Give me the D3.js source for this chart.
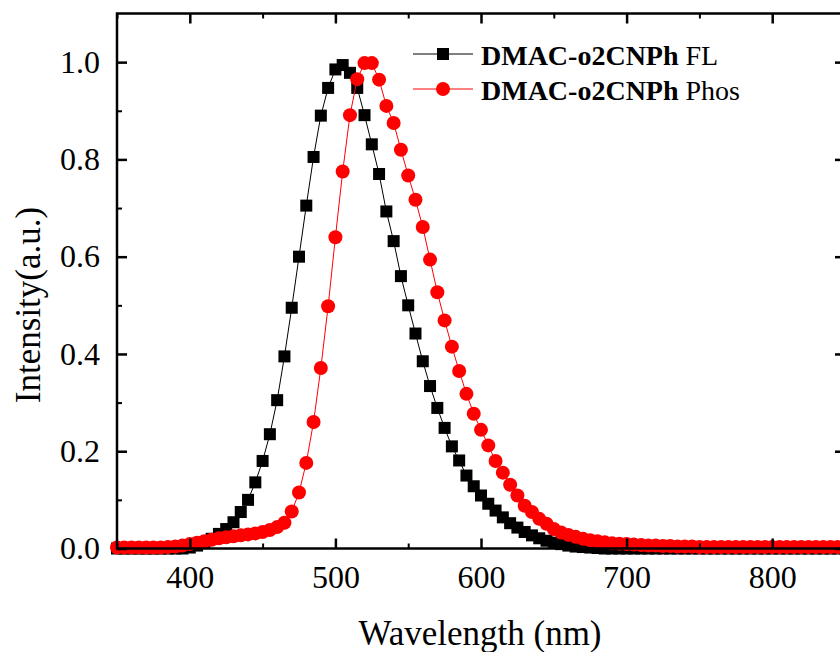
<!DOCTYPE html>
<html>
<head>
<meta charset="utf-8">
<script src="https://cdn.jsdelivr.net/npm/d3@7"></script>
<style>
  body { margin: 0; background: #fff; }
  svg { display: block; font-family: "Liberation Serif", "Times New Roman", serif; }
</style>
</head>
<body>
<div id="chart"></div>
<script>
const wavelength = [
  350, 355, 360, 365, 370, 375, 380, 385, 390, 395,
  400, 405, 410, 415, 420, 425, 430, 435, 440, 445,
  450, 455, 460, 465, 470, 475, 480, 485, 490, 495,
  500, 505, 510, 515, 520, 525, 530, 535, 540, 545,
  550, 555, 560, 565, 570, 575, 580, 585, 590, 595,
  600, 605, 610, 615, 620, 625, 630, 635, 640, 645,
  650, 655, 660, 665, 670, 675, 680, 685, 690, 695,
  700, 705, 710, 715, 720, 725, 730, 735, 740, 745,
  750, 755, 760, 765, 770, 775, 780, 785, 790, 795,
  800, 805, 810, 815, 820, 825, 830, 835, 840, 845,
  850
]

const fl = [
  0, 0, 0, 0, 0, 0, 0, 0, 0, 0,
  0.002, 0.006, 0.012, 0.02, 0.03, 0.04, 0.054, 0.075, 0.10, 0.136,
  0.18, 0.235, 0.305, 0.395, 0.495, 0.60, 0.705, 0.805, 0.89, 0.947,
  0.985, 0.994, 0.978, 0.947, 0.891, 0.831, 0.77, 0.693, 0.632, 0.56,
  0.50, 0.442, 0.385, 0.334, 0.289, 0.248, 0.21, 0.181, 0.15, 0.128,
  0.109, 0.092, 0.078, 0.064, 0.052, 0.043, 0.034, 0.027, 0.021, 0.016,
  0.012, 0.009, 0.006, 0.004, 0.003, 0.002, 0.001, 0, 0, 0,
  0, 0, 0, 0, 0, 0, 0, 0, 0, 0,
  0, 0, 0, 0, 0, 0, 0, 0, 0, 0,
  0, 0, 0, 0, 0, 0, 0, 0, 0, 0,
  0
]

const phos = [
  0.002, 0.002, 0.002, 0.002, 0.002, 0.002, 0.002, 0.003, 0.004, 0.006,
  0.009, 0.012, 0.015, 0.018, 0.021, 0.023, 0.025, 0.027, 0.029, 0.031,
  0.034, 0.038, 0.044, 0.053, 0.076, 0.115, 0.176, 0.26, 0.371, 0.498,
  0.64, 0.775, 0.891, 0.965, 0.998, 0.998, 0.964, 0.91, 0.875, 0.82,
  0.767, 0.717, 0.661, 0.594, 0.527, 0.469, 0.415, 0.365, 0.318, 0.277,
  0.244, 0.212, 0.18, 0.156, 0.131, 0.109, 0.088, 0.075, 0.061, 0.051,
  0.04, 0.033, 0.028, 0.024, 0.02, 0.017, 0.015, 0.013, 0.011, 0.01,
  0.009, 0.008, 0.007, 0.006, 0.006, 0.005, 0.005, 0.004, 0.004, 0.004,
  0.003, 0.003, 0.003, 0.003, 0.003, 0.003, 0.003, 0.003, 0.003, 0.003,
  0.003, 0.003, 0.003, 0.003, 0.003, 0.003, 0.003, 0.003, 0.003, 0.003,
  0.003
]

const xTicks = [400, 500, 600, 700, 800]
const xMinor = [350, 450, 550, 650, 750, 850]
const yTicks = [0, 0.2, 0.4, 0.6, 0.8, 1.0]
const yMinor = [0.1, 0.3, 0.5, 0.7, 0.9]
const legendNames = ['DMAC-o2CNPh', 'DMAC-o2CNPh']
const legendSuffix = [' FL', ' Phos']

const width = 840
const height = 652
const plotLeft = 117, plotRight = 845, plotTop = 13.5, plotBottom = 548.5

const x = d3.scaleLinear().domain([350, 850]).range([plotLeft, plotRight])
const y = d3.scaleLinear().domain([0, 1.1]).range([plotBottom, plotTop])

const svg = d3.select('#chart')
  .append('svg')
  .attr('width', width)
  .attr('height', height)

const flData = wavelength.map((w, i) => ({ w, v: fl[i] }))
const phosData = wavelength.map((w, i) => ({ w, v: phos[i] }))

const line = d3.line()
  .x(d => x(d.w))
  .y(d => y(d.v))

// black FL first, red Phos on top
svg.append('path')
  .datum(flData)
  .attr('fill', 'none')
  .attr('stroke', '#000')
  .attr('stroke-width', 1)
  .attr('d', line)

svg.selectAll('rect.fl')
  .data(flData)
  .enter()
  .append('rect')
  .attr('class', 'fl')
  .attr('x', d => x(d.w) - 6)
  .attr('y', d => y(d.v) - 6)
  .attr('width', 12)
  .attr('height', 12)
  .attr('fill', '#000')

svg.append('path')
  .datum(phosData)
  .attr('fill', 'none')
  .attr('stroke', '#ff0000')
  .attr('stroke-width', 1)
  .attr('d', line)

svg.selectAll('circle.phos')
  .data(phosData)
  .enter()
  .append('circle')
  .attr('class', 'phos')
  .attr('cx', d => x(d.w))
  .attr('cy', d => y(d.v))
  .attr('r', 7)
  .attr('fill', '#ff0000')

// axes
function styleAxis(g, w) {
  g.select('.domain').remove()
  g.selectAll('.tick line').attr('stroke', '#000').attr('stroke-width', w)
  g.selectAll('.tick text')
    .attr('fill', '#000')
    .style('font-size', '32px')
    .style('font-family', '"Liberation Serif", "Times New Roman", serif')
}

svg.append('g')
  .attr('transform', `translate(0,${plotBottom})`)
  .call(d3.axisBottom(x).tickValues(xTicks).tickSize(-10).tickPadding(17))
  .call(g => styleAxis(g, 2.5))
svg.append('g')
  .attr('transform', `translate(0,${plotBottom})`)
  .call(d3.axisBottom(x).tickValues(xMinor).tickSize(-5).tickFormat(''))
  .call(g => styleAxis(g, 2))

svg.append('g')
  .attr('transform', `translate(0,${plotTop})`)
  .call(d3.axisTop(x).tickValues(xTicks).tickSize(-10).tickFormat(''))
  .call(g => styleAxis(g, 2.5))
svg.append('g')
  .attr('transform', `translate(0,${plotTop})`)
  .call(d3.axisTop(x).tickValues(xMinor).tickSize(-5).tickFormat(''))
  .call(g => styleAxis(g, 2))

svg.append('g')
  .attr('transform', `translate(${plotLeft},0)`)
  .call(d3.axisLeft(y).tickValues(yTicks).tickSize(-10).tickPadding(17).tickFormat(d3.format('.1f')))
  .call(g => styleAxis(g, 2.5))
svg.append('g')
  .attr('transform', `translate(${plotLeft},0)`)
  .call(d3.axisLeft(y).tickValues(yMinor).tickSize(-5).tickFormat(''))
  .call(g => styleAxis(g, 2))

svg.append('g')
  .attr('transform', `translate(${plotRight},0)`)
  .call(d3.axisRight(y).tickValues(yTicks).tickSize(-10).tickFormat(''))
  .call(g => styleAxis(g, 2.5))
svg.append('g')
  .attr('transform', `translate(${plotRight},0)`)
  .call(d3.axisRight(y).tickValues(yMinor).tickSize(-5).tickFormat(''))
  .call(g => styleAxis(g, 2))

// frame
svg.append('rect')
  .attr('x', plotLeft)
  .attr('y', plotTop)
  .attr('width', plotRight - plotLeft)
  .attr('height', plotBottom - plotTop)
  .attr('fill', 'none')
  .attr('stroke', '#000')
  .attr('stroke-width', 2.5)

// axis titles
svg.append('text')
  .attr('x', 480)
  .attr('y', 645)
  .attr('text-anchor', 'middle')
  .style('font-size', '35px')
  .text('Wavelength (nm)')

svg.append('text')
  .attr('transform', 'translate(40,305) rotate(-90)')
  .attr('text-anchor', 'middle')
  .style('font-size', '35px')
  .text('Intensity(a.u.)')

// legend
const legend = svg.append('g')
const rows = [
  { y: 54, color: '#000', shape: 'square' },
  { y: 89, color: '#ff0000', shape: 'circle' }
]
rows.forEach((r, i) => {
  legend.append('line')
    .attr('x1', 413).attr('x2', 473)
    .attr('y1', r.y).attr('y2', r.y)
    .attr('stroke', r.color)
    .attr('stroke-width', 1)
  if (r.shape === 'square') {
    legend.append('rect')
      .attr('x', 443 - 6).attr('y', r.y - 6)
      .attr('width', 12).attr('height', 12)
      .attr('fill', r.color)
  } else {
    legend.append('circle')
      .attr('cx', 443).attr('cy', r.y).attr('r', 7)
      .attr('fill', r.color)
  }
  const t = legend.append('text')
    .attr('x', 481)
    .attr('y', r.y + 11)
    .style('font-size', '28px')
  t.append('tspan').style('font-weight', 'bold').text(legendNames[i])
  t.append('tspan').text(legendSuffix[i])
})
</script>
</body>
</html>
